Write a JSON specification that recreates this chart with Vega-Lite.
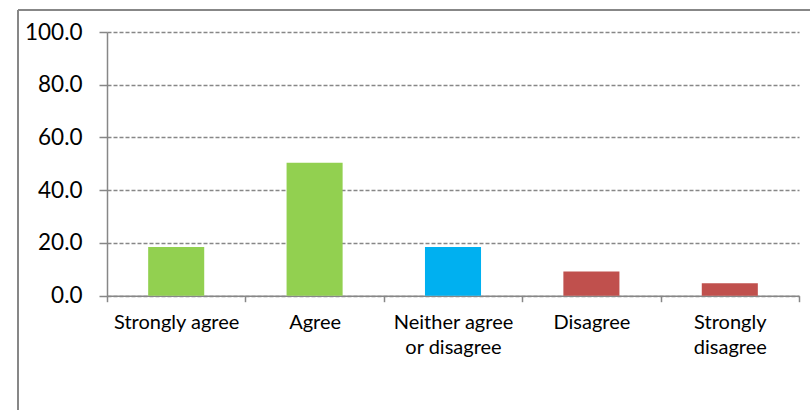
{
  "$schema": "https://vega.github.io/schema/vega-lite/v6.json",
  "autosize": {"type": "none"},
  "padding": {"left": 18, "top": 10, "right": 0, "bottom": 0},
  "width": 792,
  "height": 400,
  "background": "white",
  "config": {
    "view": {"stroke": "#878787", "strokeWidth": 2, "fill": "white", "strokeDash": [792, 1192, 400, 0]},
    "axis": {"labelFont": "Lato", "labelColor": "#000000", "domainColor": "#878787", "tickColor": "#878787", "domainWidth": 1.5, "tickWidth": 1.5, "title": null}
  },
  "data": {
    "values": [
      {"response": "Strongly agree", "percent": 18.5},
      {"response": "Agree", "percent": 50.4},
      {"response": "Neither agree or disagree", "percent": 18.5},
      {"response": "Disagree", "percent": 9.2},
      {"response": "Strongly disagree", "percent": 4.7}
    ]
  },
  "mark": {"type": "bar", "width": {"band": 0.405}},
  "encoding": {
    "x": {
      "field": "response",
      "type": "nominal",
      "sort": null,
      "scale": {"range": [89, 781], "paddingInner": 0, "paddingOuter": 0},
      "axis": {
        "offset": -114.3,
        "tickBand": "extent",
        "tickSize": 6,
        "labelAngle": 0,
        "labelFontSize": 20,
        "labelPadding": 11,
        "labelLineHeight": 25,
        "labelBaseline": "top",
        "labelExpr": "datum.value == 'Neither agree or disagree' ? ['Neither agree', 'or disagree'] : datum.value == 'Strongly disagree' ? ['Strongly', 'disagree'] : datum.value",
        "grid": false
      }
    },
    "y": {
      "field": "percent",
      "type": "quantitative",
      "scale": {"domain": [0, 100], "range": [285.7, 22], "nice": false},
      "axis": {
        "offset": -89,
        "values": [0, 20, 40, 60, 80, 100],
        "format": ".1f",
        "tickSize": 8,
        "labelFontSize": 22.5,
        "labelPadding": 17,
        "grid": true,
        "gridColor": "#878787",
        "gridDash": [4, 2],
        "gridWidth": 1.3
      }
    },
    "color": {
      "field": "response",
      "type": "nominal",
      "sort": null,
      "scale": {
        "domain": ["Strongly agree", "Agree", "Neither agree or disagree", "Disagree", "Strongly disagree"],
        "range": ["#92D050", "#92D050", "#00B0F0", "#C0504D", "#C0504D"]
      },
      "legend": null
    }
  }
}
